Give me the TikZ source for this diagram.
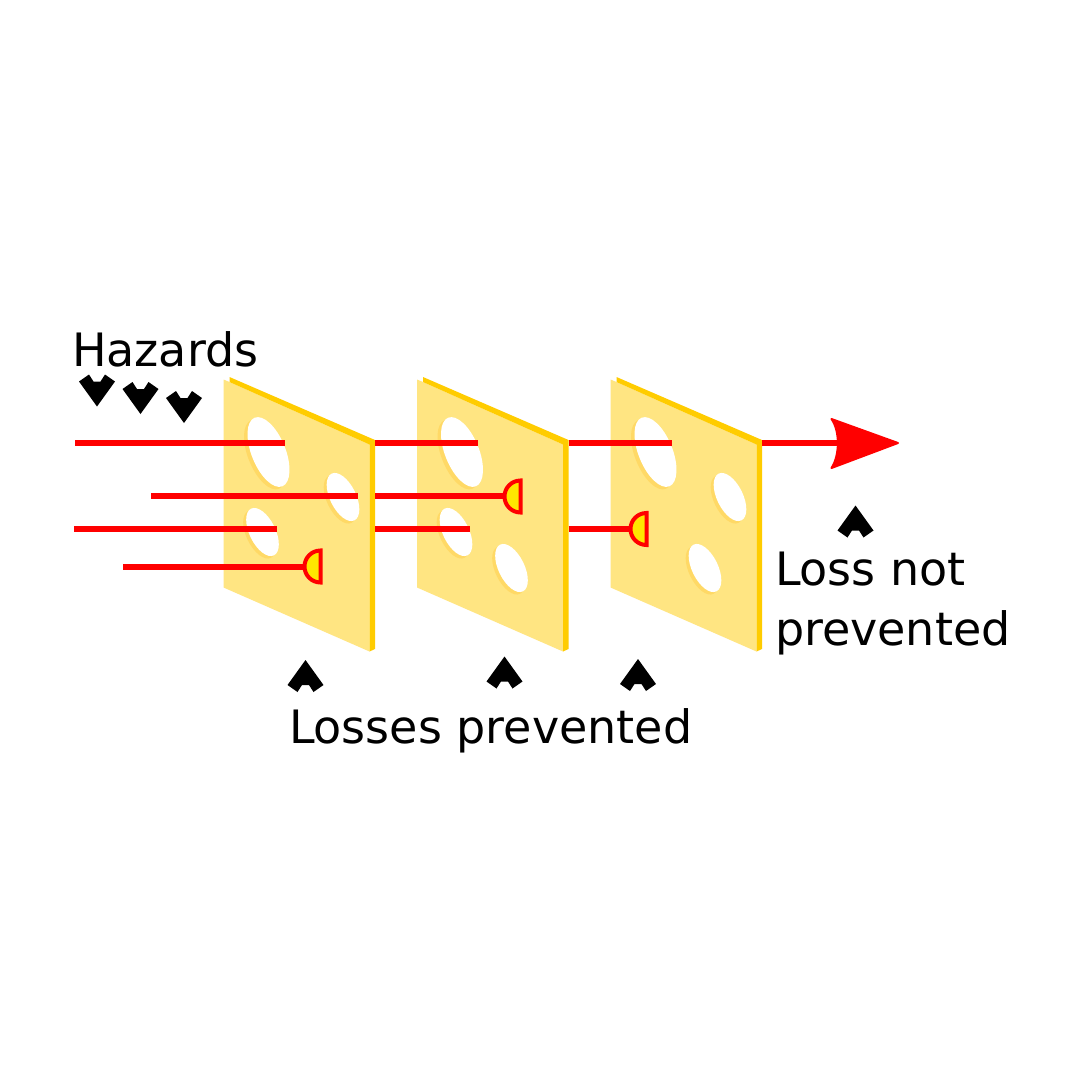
\documentclass[tikz,border=0pt]{standalone}
\usepackage{fontspec}
\setmainfont{DejaVu Sans}
\begin{document}
\begin{tikzpicture}[x=1pt,y=-1pt,line cap=butt,
	slabface/.style={fill=custcol_ff_e5_82},
	slabedge/.style={fill=custcol_ff_cc_0},
	rayline/.style={draw=custcol_ff_0_0,line width=5.5pt},
	stopmark/.style={draw=custcol_ff_0_0,fill=custcol_ff_e6_0,line width=4.0pt,line join=miter},
	marker/.style={fill=custcol_0_0_0},
	caption/.style={inner sep=0, outer sep=0, anchor=base west, font=\fontsize{46pt}{46pt}\selectfont}]
	\definecolor{custcol_ff_e5_82}{RGB}{255, 229, 130}
	\definecolor{custcol_ff_d9_66}{RGB}{255, 217, 102}
	\definecolor{custcol_ff_cc_0}{RGB}{255, 204, 0}
	\definecolor{custcol_ff_0_0}{RGB}{255, 0, 0}
	\definecolor{custcol_ff_e6_0}{RGB}{255, 230, 0}
	\definecolor{custcol_0_0_0}{RGB}{0, 0, 0}
	\def\cheeseslab#1{%
		\fill [slabface, xshift=#1pt] (223.5,379.5) -- (229.5,382.0) -- (369.5,444.5) -- (369.5,651.5) -- (223.5,587.5) -- cycle;
		\fill [slabedge, xshift=#1pt] (229.5,377.0) -- (375.0,440.0) -- (375.0,649.0) -- (369.5,651.5) -- (369.5,444.5) -- (229.5,382.0) -- cycle;}
	\def\bighole#1{%
		\fill [custcol_ff_d9_66, xshift=#1pt, rotate around={-68:(265.0,454.5)}] (265.0,454.5) ellipse (37.0 and 17.0);
		\fill [white, xshift=#1pt, rotate around={-68:(268.5,452.0)}] (268.5,452.0) ellipse (37.0 and 17.0);}
	\def\smallhole#1#2#3{%
		\fill [custcol_ff_d9_66, xshift=#1pt, rotate around={-64:(#2-3.0,#3+2.5)}] (#2-3.0,#3+2.5) ellipse (26.0 and 13.0);
		\fill [white, xshift=#1pt, rotate around={-64:(#2,#3)}] (#2,#3) ellipse (26.0 and 13.0);}
	\def\downmark#1#2{\fill [marker, shift={(#1,#2)}] (0,0) -- (-18,-25) -- (-8,-32) -- (-3.5,-25) -- (3.5,-25) -- (8,-32) -- (18,-25) -- cycle;}
	\def\upmark#1#2{\fill [marker, shift={(#1,#2)}] (0,0) -- (-18,25) -- (-8,32) -- (-3.5,25) -- (3.5,25) -- (8,32) -- (18,25) -- cycle;}
	\def\stopcap#1#2{\draw [stopmark] (#1,#2+16.0) arc (90:270:16.0) -- cycle;}
	\useasboundingbox [fill=white] (0,0) rectangle (1080,1080);
	% slices
	\cheeseslab{0}
	\bighole{0}
	\smallhole{0}{343.0}{497.0}
	\smallhole{0}{262.5}{532.0}
	\cheeseslab{193.5}
	\bighole{193.5}
	\smallhole{193.5}{262.5}{532.0}
	\smallhole{193.5}{318.0}{568.0}
	\cheeseslab{387}
	\bighole{387}
	\smallhole{387}{343.0}{497.0}
	\smallhole{387}{318.0}{568.0}
	% rays
	\draw [rayline] (75.0,443.0) -- (284.5,443.0);
	\draw [rayline] (375.0,443.0) -- (478.0,443.0);
	\draw [rayline] (568.5,443.0) -- (671.5,443.0);
	\draw [rayline] (762.0,443.0) -- (840.0,443.0);
	\draw [rayline] (151.0,496.0) -- (357.5,496.0);
	\draw [rayline] (375.0,496.0) -- (505.0,496.0);
	\draw [rayline] (74.0,529.0) -- (276.5,529.0);
	\draw [rayline] (375.0,529.0) -- (470.0,529.0);
	\draw [rayline] (568.5,529.0) -- (631.0,529.0);
	\draw [rayline] (123.0,567.0) -- (304.0,567.0);
	\fill [custcol_ff_0_0, draw=custcol_ff_0_0, line width=2.0pt, line join=round] (898.0,443.0) -- (831.5,419.0) .. controls (840.0,431.0) and (840.0,455.0) .. (831.5,468.0) -- cycle;
	\stopcap{320.5}{566.5}
	\stopcap{520.5}{496.5}
	\stopcap{646.5}{529.0}
	% markers
	\downmark{97.0}{406.5}
	\downmark{140.5}{414.0}
	\downmark{184.0}{423.0}
	\upmark{305.5}{660.0}
	\upmark{504.5}{656.5}
	\upmark{638.0}{659.0}
	\upmark{855.5}{505.5}
	% labels
	\node [caption] (hazards) at (72.0,366.5) {Hazards};
	\node [caption] (lossnot) at (775.0,585.5) {Loss not};
	\node [caption] (lossnotb) at (775.0,645.0) {prevented};
	\node [caption] (losses) at (289.0,743.5) {Losses prevented};
\end{tikzpicture}
\end{document}
